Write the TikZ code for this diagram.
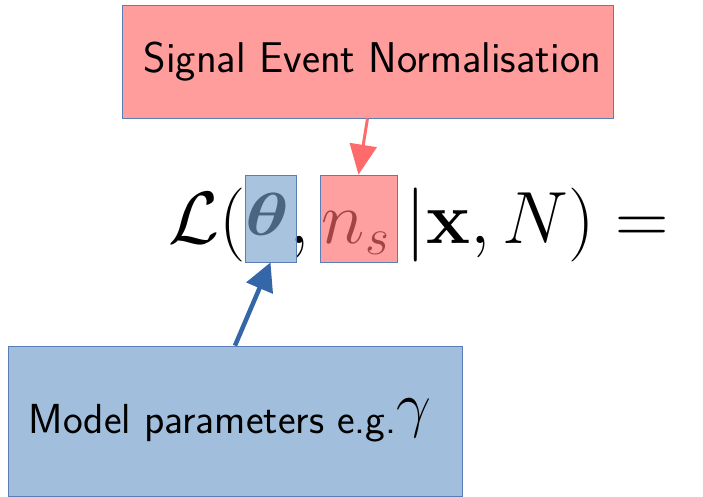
\RequirePackage{fix-cm}
\documentclass[tikz,border=0pt]{standalone}
\usepackage{amsmath}
\usepackage{amssymb}
\usepackage{bm}
\usepackage{graphicx}
\usepackage{tikz}
\usetikzlibrary{arrows.meta}
\definecolor{sigfg}{HTML}{FF6B6B}
\definecolor{modfg}{HTML}{75A0CB}
\definecolor{modarrow}{HTML}{3566A8}
\definecolor{edgeblue}{HTML}{5B7DB5}

\begin{document}
\begin{tikzpicture}[x=1pt, y=-1pt,
    sigbox/.style = {draw=edgeblue, line width=0.8pt, fill=sigfg, fill opacity=0.66, text opacity=1, rectangle, inner sep=0pt, font=\sffamily\fontsize{43}{45}\selectfont},
    modbox/.style = {draw=edgeblue, line width=0.8pt, fill=modfg, fill opacity=0.68, rectangle, inner sep=0pt},
    hlsig/.style = {draw=edgeblue, line width=0.8pt, fill=sigfg, fill opacity=0.64, rectangle, inner sep=0pt},
    hlmod/.style = {draw=edgeblue, line width=0.8pt, fill=modfg, fill opacity=0.63, rectangle, inner sep=0pt}]

\useasboundingbox (0,0) rectangle (703,496);

% formula first, highlights drawn on top
\node[anchor=base west, inner sep=0pt, font=\fontsize{74}{80}\selectfont] (lik) at (168,243) {$\mathcal{L}(\raisebox{8pt}{\scalebox{1.0}[0.82]{$\bm{\theta}$}}, n_s\mkern4mu|\mathbf{x}, N) =$};

\node[hlmod, minimum width=51, minimum height=87] (thetabox) at (270.5,218.5) {};
\node[hlsig, minimum width=77, minimum height=87] (nsbox) at (358.5,218.5) {};

\node[sigbox, minimum width=491, minimum height=113] (sigbox) at (367.5,61.5) {\hspace*{10pt}Signal Event Normalisation};
\node[modbox, minimum width=454, minimum height=150] (modbox) at (235,421) {};
\node[anchor=base, inner sep=0pt, font=\sffamily\fontsize{42}{44}\selectfont] (modtext) at (230,433) {Model parameters e.g.\raisebox{8pt}{\fontsize{62}{62}\selectfont$\gamma$}};

\draw[-{Triangle[width=27,length=30]}, draw=sigfg, fill=sigfg, line width=3pt] (sigbox.south) -- (nsbox.north);
\draw[-{Triangle[width=28,length=28]}, draw=modarrow, fill=modarrow, line width=4.5pt] (modbox.north) -- (thetabox.south);

\end{tikzpicture}
\end{document}
